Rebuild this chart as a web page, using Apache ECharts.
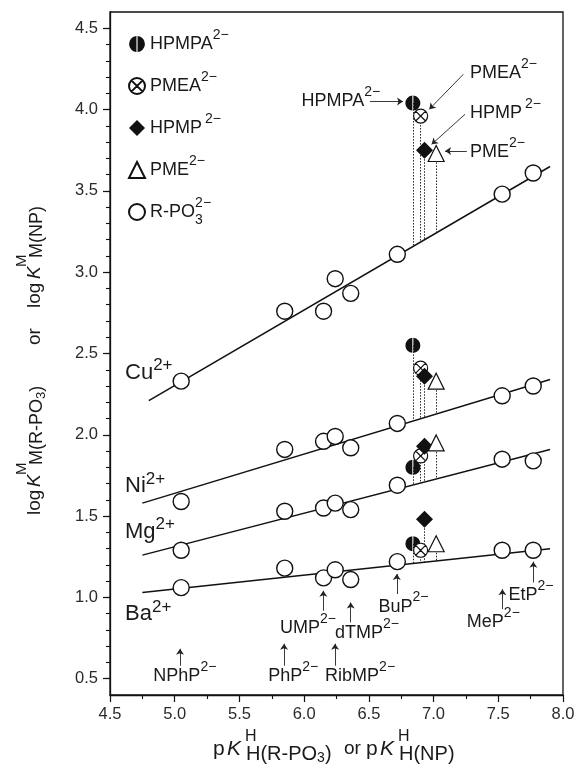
<!DOCTYPE html>
<html><head><meta charset="utf-8">
<script src="https://cdn.jsdelivr.net/npm/echarts@6/dist/echarts.min.js"></script>
<style>html,body{margin:0;padding:0;background:#fff}#c{width:580px;height:776px}</style>
</head><body><div id="c"></div>
<script>
// ---------- data ----------
// pKa of the simple phosphate monoesters / phosphonates (x)
const rpo3X  = [5.05, 5.85, 6.15, 6.24, 6.36, 6.72, 7.53, 7.77];
// log K values of the R-PO3 complexes
const rpo3Cu = [2.33, 2.76, 2.76, 2.96, 2.87, 3.11, 3.48, 3.61];
const rpo3Ni = [1.59, 1.91, 1.96, 1.99, 1.92, 2.07, 2.24, 2.30];
const rpo3Mg = [1.29, 1.53, 1.55, 1.58, 1.54, 1.69, 1.85, 1.84];
const rpo3Ba = [1.06, 1.18, 1.12, 1.17, 1.11, 1.22, 1.29, 1.29];
const metals = ['Cu', 'Ni', 'Mg', 'Ba'];
// nucleotide analogues: pKa and log K for Cu, Ni, Mg, Ba
const hpmpaX = 6.84; const hpmpaY = [4.04, 2.55, 1.80, 1.33];
const pmeaX  = 6.90; const pmeaY  = [3.96, 2.41, 1.87, 1.29];
const hpmpX  = 6.93; const hpmpY  = [3.75, 2.36, 1.93, 1.48];
const pmeX   = 7.02; const pmeY   = [3.73, 2.33, 1.95, 1.33];
// straight reference lines (end points)
const fitCu = [[4.80, 2.21], [7.90, 3.65]];
const fitNi = [[4.75, 1.58], [7.90, 2.34]];
const fitMg = [[4.75, 1.26], [7.90, 1.91]];
const fitBa = [[4.75, 1.03], [7.90, 1.30]];
// tick labels
const yTicks = [0.5, 1.0, 1.5, 2.0, 2.5, 3.0, 3.5, 4.0, 4.5];
const yMinorTicks = [0.5,0.6,0.7,0.8,0.9,1.0,1.1,1.2,1.3,1.4,1.5,1.6,1.7,1.8,1.9,2.0,2.1,2.2,2.3,2.4,2.5,2.6,2.7,2.8,2.9,3.0,3.1,3.2,3.3,3.4,3.5,3.6,3.7,3.8,3.9,4.0,4.1,4.2,4.3,4.4,4.5];

// ---------- styles ----------
const F = '"Liberation Sans", Arial, sans-serif';
const INK = '#1a1a1a';
const rich = {
  b:  {fontFamily: F, fontSize: 18, color: INK},
  s:  {fontFamily: F, fontSize: 14, color: INK, padding: [0, 0, 18, 0]},
  sb: {fontFamily: F, fontSize: 14, color: INK, padding: [16, 0, 0, 0], width: 0.1},
  g:  {fontFamily: F, fontSize: 18, color: INK, width: 3},
  m:  {fontFamily: F, fontSize: 22, color: INK},
  ms: {fontFamily: F, fontSize: 17, color: INK, padding: [0, 0, 14, 0]}
};
const HALF_CIRCLE = 'path://M-0.7,-9.97A10,10 0 0,0 -0.7,9.97Z M0.7,-9.97A10,10 0 0,1 0.7,9.97Z';
const CROSS_CIRCLE = 'path://M0,-10A10,10 0 1,1 0,10A10,10 0 1,1 0,-10Z M-7.07,-7.07L7.07,7.07 M7.07,-7.07L-7.07,7.07';

const fits = [fitCu, fitNi, fitMg, fitBa];
const rpo3 = [rpo3Cu, rpo3Ni, rpo3Mg, rpo3Ba];
const specials = [
  {name: 'HPMPA', x: hpmpaX, y: hpmpaY, symbol: HALF_CIRCLE, size: 15, style: {color: '#111'}},
  {name: 'PMEA',  x: pmeaX,  y: pmeaY,  symbol: CROSS_CIRCLE, size: 14, style: {color: '#fff', borderColor: '#111', borderWidth: 1.2}},
  {name: 'HPMP',  x: hpmpX,  y: hpmpY,  symbol: 'diamond', size: 17, style: {color: '#111'}},
  {name: 'PME',   x: pmeX,   y: pmeY,   symbol: 'triangle', size: 16, style: {color: '#fff', borderColor: '#111', borderWidth: 1.2}}
];
function lineAt(fit, x) {
  const [[x0, y0], [x1, y1]] = fit;
  return y0 + (y1 - y0) * (x - x0) / (x1 - x0);
}

const legendText = {
  'HPMPA': '{b|HPMPA}{s|2−}',
  'PMEA': '{b|PMEA}{s|2−}',
  'HPMP': '{b|HPMP}{g| }{s|2−}',
  'PME': '{b|PME}{s|2−}',
  'R-PO3': '{b|R-PO}{sb|3}{s|2−}'
};

// annotation texts (anchor = left/right edge, vertical middle of the main text)
const notes = [
  {value: [6.587, 4.053], t: '{b|HPMPA}{s|2−}', pos: 'left'},
  {value: [7.282, 4.222], t: '{b|PMEA}{s|2−}', pos: 'right'},
  {value: [7.282, 3.976], t: '{b|HPMP}{g| }{s|2−}', pos: 'right'},
  {value: [7.282, 3.740], t: '{b|PME}{s|2−}', pos: 'right'},
  {value: [7.578, 1.015], t: '{b|EtP}{s|2−}', pos: 'right'},
  {value: [7.257, 0.851], t: '{b|MeP}{s|2−}', pos: 'right'},
  {value: [6.574, 0.944], t: '{b|BuP}{s|2−}', pos: 'right'},
  {value: [5.814, 0.810], t: '{b|UMP}{s|2−}', pos: 'right'},
  {value: [6.239, 0.778], t: '{b|dTMP}{s|2−}', pos: 'right'},
  {value: [4.835, 0.514], t: '{b|NPhP}{s|2−}', pos: 'right'},
  {value: [5.723, 0.514], t: '{b|PhP}{s|2−}', pos: 'right'},
  {value: [6.162, 0.514], t: '{b|RibMP}{s|2−}', pos: 'right'},
  {value: [4.616, 2.383], t: '{m|Cu}{ms|2+}', pos: 'right'},
  {value: [4.616, 1.686], t: '{m|Ni}{ms|2+}', pos: 'right'},
  {value: [4.616, 1.405], t: '{m|Mg}{ms|2+}', pos: 'right'},
  {value: [4.616, 0.898], t: '{m|Ba}{ms|2+}', pos: 'right'}
];
const arrows = [
  [[6.509, 4.05], [6.764, 4.05]],
  [[7.230, 4.217], [6.967, 4.002]],
  [[7.243, 3.971], [6.985, 3.786]],
  [[7.257, 3.746], [7.089, 3.746]],
  [[7.771, 1.092], [7.771, 1.22]],
  [[7.532, 0.928], [7.532, 1.051]],
  [[6.716, 1.021], [6.716, 1.144]],
  [[6.148, 0.918], [6.148, 1.041]],
  [[6.36, 0.846], [6.36, 0.969]],
  [[5.041, 0.58], [5.041, 0.684]],
  [[5.845, 0.58], [5.845, 0.715]],
  [[6.239, 0.58], [6.239, 0.715]]
];

const series = [];
fits.forEach((f, i) => {
  series.push({
    type: 'line', name: 'fit' + metals[i], data: f, symbol: 'none', silent: true, z: 1,
    lineStyle: {color: '#111', width: 1.5},
    markLine: {
      silent: true, symbol: 'none', label: {show: false}, animation: false,
      lineStyle: {color: '#222', width: 1, type: [1.5, 1.5]},
      data: specials.map(s => [{coord: [s.x, s.y[i]]}, {coord: [s.x, lineAt(f, s.x)]}])
    }
  });
});
specials.forEach(s => {
  series.push({
    type: 'scatter', name: s.name, symbol: s.symbol, symbolSize: s.size, z: 5,
    itemStyle: Object.assign({opacity: 1}, s.style),
    data: metals.map((m, i) => [s.x, s.y[i]])
  });
});
series.push({
  type: 'scatter', name: 'R-PO3', symbol: 'circle', symbolSize: 16, z: 4,
  itemStyle: {color: '#fff', borderColor: '#111', borderWidth: 1.4, opacity: 1},
  data: rpo3.flatMap(arr => arr.map((v, j) => [rpo3X[j], v]))
});
series.push({
  type: 'scatter', name: 'notes', symbolSize: 0, silent: true, z: 6,
  itemStyle: {color: '#000', opacity: 1},
  label: {color: INK, opacity: 1},
  data: notes.map(n => ({value: n.value, label: {show: true, position: n.pos, distance: 0, color: INK, opacity: 1, textBorderWidth: 0, formatter: n.t, rich: rich}})),
  markLine: {
    silent: true, symbol: ['none', 'arrow'], symbolSize: 6, label: {show: false}, animation: false,
    lineStyle: {color: '#222', width: 0.9, type: 'solid'},
    data: arrows.map(a => [{coord: a[0]}, {coord: a[1]}])
  }
});

function txt(x, y, text, size, extra) {
  return {type: 'text', x: x, y: y, silent: true,
    style: Object.assign({text: text, fontFamily: F, fontSize: size, fill: INK, align: 'left', verticalAlign: 'middle'}, extra || {})};
}
const subRich = {a: {fontFamily: F, fontSize: 18, color: INK}, c: {fontFamily: F, fontSize: 13, color: INK, padding: [8, 0, 0, 0]}};
const subRichX = {a: {fontFamily: F, fontSize: 20, color: INK}, c: {fontFamily: F, fontSize: 14, color: INK, padding: [8, 0, 0, 0]}};

const chart = echarts.init(document.getElementById('c'), null, {renderer: 'canvas'});
chart.setOption({
  animation: false,
  backgroundColor: '#fff',
  grid: {left: 110, right: 17, top: 12, bottom: 81, show: true, borderColor: '#111', borderWidth: 1.3, backgroundColor: 'transparent'},
  xAxis: {
    type: 'value', min: 4.5, max: 8.0, interval: 0.5,
    axisLine: {lineStyle: {color: '#111', width: 1.3}},
    axisTick: {length: 7, lineStyle: {color: '#111', width: 1.2}},
    minorTick: {show: true, splitNumber: 2, length: 4, lineStyle: {color: '#111', width: 1.1}},
    axisLabel: {formatter: v => v.toFixed(1), fontFamily: F, fontSize: 16.5, color: '#2a2a2a', margin: 11},
    splitLine: {show: false}, minorSplitLine: {show: false}
  },
  yAxis: [{
    type: 'value', min: 0.4, max: 4.6, position: 'left',
    axisLine: {lineStyle: {color: '#111', width: 1.3}},
    axisTick: {length: 7, customValues: yTicks, lineStyle: {color: '#111', width: 1.2}},
    axisLabel: {customValues: yTicks, formatter: v => v.toFixed(1), fontFamily: F, fontSize: 16.5, color: '#2a2a2a', margin: 12},
    splitLine: {show: false}
  }, {
    type: 'value', min: 0.4, max: 4.6, position: 'left',
    axisLine: {show: false},
    axisTick: {length: 4, customValues: yMinorTicks, lineStyle: {color: '#111', width: 1.1}},
    axisLabel: {show: false},
    splitLine: {show: false}
  }],
  legend: {
    orient: 'vertical', left: 128, top: 28, padding: 0, itemGap: 17, itemWidth: 16, itemHeight: 16,
    data: ['HPMPA', 'PMEA', 'HPMP', 'PME', 'R-PO3'],
    formatter: n => legendText[n],
    textStyle: {color: INK, rich: rich}, selectedMode: false
  },
  series: series,
  graphic: [
    {type: 'group', x: 41, y: 515, rotation: Math.PI / 2, children: [
      txt(0, -6.7, 'log', 19),
      txt(28, -6.7, 'K', 19, {fontStyle: 'italic'}),
      txt(40, -19, 'M', 15),
      txt(50, -3.5, '{a|M(R-PO}{c|3}{a|)}', 18, {rich: subRich}),
      txt(170, -6.7, 'or', 19),
      txt(207, -6.7, 'log', 19),
      txt(236, -6.7, 'K', 19, {fontStyle: 'italic'}),
      txt(248, -19, 'M', 15),
      txt(257, -3.5, 'M(NP)', 18)
    ]},
    {type: 'group', x: 0, y: 0, children: [
      txt(213, 749, 'p', 21),
      txt(227, 749, 'K', 21, {fontStyle: 'italic'}),
      txt(245, 737, 'H', 16),
      txt(246, 754, '{a|H(R-PO}{c|3}{a|)}', 20, {rich: subRichX}),
      txt(344, 749, 'or', 19),
      txt(366, 749, 'p', 21),
      txt(380, 749, 'K', 21, {fontStyle: 'italic'}),
      txt(398, 737, 'H', 16),
      txt(399, 754, 'H(NP)', 20)
    ]}
  ]
});
</script>
</body></html>
